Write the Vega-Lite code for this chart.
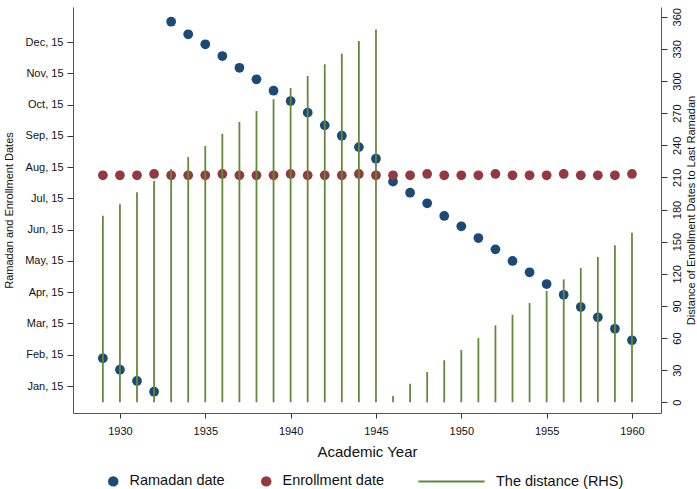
{
  "$schema": "https://vega.github.io/schema/vega-lite/v6.json",
  "width": 588,
  "height": 406,
  "autosize": "none",
  "padding": {"left": 73, "top": 7, "right": 36, "bottom": 76},
  "background": "white",
  "config": {
    "font": "Liberation Sans",
    "view": {"stroke": null},
    "axis": {"grid": false, "domainColor": "#555", "tickColor": "#333", "labelColor": "#111", "titleColor": "#111", "labelFontSize": 11, "titleFontSize": 11, "titleFontWeight": "normal", "tickSize": 6, "labelFont": "Liberation Sans", "titleFont": "Liberation Sans"},
    "legend": {"labelFontSize": 14.5, "labelFont": "Liberation Sans", "labelColor": "#111", "title": null}
  },
  "datasets": {
    "dates": [
      {"year": 1929, "series": "Ramadan date", "doy": 41.9},
      {"year": 1930, "series": "Ramadan date", "doy": 30.8},
      {"year": 1931, "series": "Ramadan date", "doy": 19.9},
      {"year": 1932, "series": "Ramadan date", "doy": 9.5},
      {"year": 1933, "series": "Ramadan date", "doy": 368.7},
      {"year": 1934, "series": "Ramadan date", "doy": 356.5},
      {"year": 1935, "series": "Ramadan date", "doy": 346.8},
      {"year": 1936, "series": "Ramadan date", "doy": 335.4},
      {"year": 1937, "series": "Ramadan date", "doy": 324.0},
      {"year": 1938, "series": "Ramadan date", "doy": 312.8},
      {"year": 1939, "series": "Ramadan date", "doy": 301.7},
      {"year": 1940, "series": "Ramadan date", "doy": 291.7},
      {"year": 1941, "series": "Ramadan date", "doy": 280.4},
      {"year": 1942, "series": "Ramadan date", "doy": 268.1},
      {"year": 1943, "series": "Ramadan date", "doy": 258.0},
      {"year": 1944, "series": "Ramadan date", "doy": 247.0},
      {"year": 1945, "series": "Ramadan date", "doy": 235.7},
      {"year": 1946, "series": "Ramadan date", "doy": 213.4},
      {"year": 1947, "series": "Ramadan date", "doy": 202.7},
      {"year": 1948, "series": "Ramadan date", "doy": 192.4},
      {"year": 1949, "series": "Ramadan date", "doy": 180.1},
      {"year": 1950, "series": "Ramadan date", "doy": 170.1},
      {"year": 1951, "series": "Ramadan date", "doy": 158.7},
      {"year": 1952, "series": "Ramadan date", "doy": 147.7},
      {"year": 1953, "series": "Ramadan date", "doy": 136.4},
      {"year": 1954, "series": "Ramadan date", "doy": 125.4},
      {"year": 1955, "series": "Ramadan date", "doy": 114.0},
      {"year": 1956, "series": "Ramadan date", "doy": 103.6},
      {"year": 1957, "series": "Ramadan date", "doy": 91.7},
      {"year": 1958, "series": "Ramadan date", "doy": 81.7},
      {"year": 1959, "series": "Ramadan date", "doy": 70.6},
      {"year": 1960, "series": "Ramadan date", "doy": 59.4},
      {"year": 1929, "series": "Enrollment date", "doy": 219.6},
      {"year": 1930, "series": "Enrollment date", "doy": 219.6},
      {"year": 1931, "series": "Enrollment date", "doy": 219.6},
      {"year": 1932, "series": "Enrollment date", "doy": 220.9},
      {"year": 1933, "series": "Enrollment date", "doy": 219.6},
      {"year": 1934, "series": "Enrollment date", "doy": 219.6},
      {"year": 1935, "series": "Enrollment date", "doy": 219.6},
      {"year": 1936, "series": "Enrollment date", "doy": 220.9},
      {"year": 1937, "series": "Enrollment date", "doy": 219.6},
      {"year": 1938, "series": "Enrollment date", "doy": 219.6},
      {"year": 1939, "series": "Enrollment date", "doy": 219.6},
      {"year": 1940, "series": "Enrollment date", "doy": 220.9},
      {"year": 1941, "series": "Enrollment date", "doy": 219.6},
      {"year": 1942, "series": "Enrollment date", "doy": 219.6},
      {"year": 1943, "series": "Enrollment date", "doy": 219.6},
      {"year": 1944, "series": "Enrollment date", "doy": 220.9},
      {"year": 1945, "series": "Enrollment date", "doy": 219.6},
      {"year": 1946, "series": "Enrollment date", "doy": 219.6},
      {"year": 1947, "series": "Enrollment date", "doy": 219.6},
      {"year": 1948, "series": "Enrollment date", "doy": 220.9},
      {"year": 1949, "series": "Enrollment date", "doy": 219.6},
      {"year": 1950, "series": "Enrollment date", "doy": 219.6},
      {"year": 1951, "series": "Enrollment date", "doy": 219.6},
      {"year": 1952, "series": "Enrollment date", "doy": 220.9},
      {"year": 1953, "series": "Enrollment date", "doy": 219.6},
      {"year": 1954, "series": "Enrollment date", "doy": 219.6},
      {"year": 1955, "series": "Enrollment date", "doy": 219.6},
      {"year": 1956, "series": "Enrollment date", "doy": 220.9},
      {"year": 1957, "series": "Enrollment date", "doy": 219.6},
      {"year": 1958, "series": "Enrollment date", "doy": 219.6},
      {"year": 1959, "series": "Enrollment date", "doy": 219.6},
      {"year": 1960, "series": "Enrollment date", "doy": 220.9}
    ],
    "dist": [
      {"year": 1929, "distance": 174.2, "lbl": "The distance (RHS)"},
      {"year": 1930, "distance": 184.9, "lbl": "The distance (RHS)"},
      {"year": 1931, "distance": 196.1, "lbl": "The distance (RHS)"},
      {"year": 1932, "distance": 206.6, "lbl": "The distance (RHS)"},
      {"year": 1933, "distance": 217.8, "lbl": "The distance (RHS)"},
      {"year": 1934, "distance": 229.0, "lbl": "The distance (RHS)"},
      {"year": 1935, "distance": 239.3, "lbl": "The distance (RHS)"},
      {"year": 1936, "distance": 250.8, "lbl": "The distance (RHS)"},
      {"year": 1937, "distance": 261.7, "lbl": "The distance (RHS)"},
      {"year": 1938, "distance": 272.0, "lbl": "The distance (RHS)"},
      {"year": 1939, "distance": 282.9, "lbl": "The distance (RHS)"},
      {"year": 1940, "distance": 293.4, "lbl": "The distance (RHS)"},
      {"year": 1941, "distance": 304.6, "lbl": "The distance (RHS)"},
      {"year": 1942, "distance": 315.6, "lbl": "The distance (RHS)"},
      {"year": 1943, "distance": 325.5, "lbl": "The distance (RHS)"},
      {"year": 1944, "distance": 337.3, "lbl": "The distance (RHS)"},
      {"year": 1945, "distance": 348.2, "lbl": "The distance (RHS)"},
      {"year": 1946, "distance": 5.9, "lbl": "The distance (RHS)"},
      {"year": 1947, "distance": 17.4, "lbl": "The distance (RHS)"},
      {"year": 1948, "distance": 28.3, "lbl": "The distance (RHS)"},
      {"year": 1949, "distance": 39.2, "lbl": "The distance (RHS)"},
      {"year": 1950, "distance": 48.8, "lbl": "The distance (RHS)"},
      {"year": 1951, "distance": 60.0, "lbl": "The distance (RHS)"},
      {"year": 1952, "distance": 71.9, "lbl": "The distance (RHS)"},
      {"year": 1953, "distance": 81.8, "lbl": "The distance (RHS)"},
      {"year": 1954, "distance": 92.7, "lbl": "The distance (RHS)"},
      {"year": 1955, "distance": 103.9, "lbl": "The distance (RHS)"},
      {"year": 1956, "distance": 114.8, "lbl": "The distance (RHS)"},
      {"year": 1957, "distance": 125.4, "lbl": "The distance (RHS)"},
      {"year": 1958, "distance": 135.7, "lbl": "The distance (RHS)"},
      {"year": 1959, "distance": 146.6, "lbl": "The distance (RHS)"},
      {"year": 1960, "distance": 158.3, "lbl": "The distance (RHS)"}
    ]
  },
  "layer": [
    {
      "data": {"name": "dates"},
      "mark": {"type": "circle", "size": 95, "opacity": 1},
      "encoding": {
        "x": {"field": "year", "type": "quantitative", "scale": {"domain": [1927.25, 1961.7], "nice": false, "zero": false},
              "axis": {"values": [1930, 1935, 1940, 1945, 1950, 1955, 1960], "format": "d", "title": "Academic Year", "titleFontSize": 15, "tickSize": 5, "labelPadding": 7, "titlePadding": 8}},
        "y": {"field": "doy", "type": "quantitative", "scale": {"domain": [-11.2, 383], "nice": false, "zero": false},
              "axis": {"title": "Ramadan and Enrollment Dates", "values": [15, 45.36, 75.73, 106.09, 136.45, 166.82, 197.18, 227.55, 257.91, 288.27, 318.64, 349],
                       "labelExpr": "['Jan, 15','Feb, 15','Mar, 15','Apr, 15','May, 15','Jun, 15','Jul, 15','Aug, 15','Sep, 15','Oct, 15','Nov, 15','Dec, 15'][round((datum.value - 15) / 30.3636)]",
                       "titlePadding": 10, "labelPadding": 4}},
        "color": {"field": "series", "type": "nominal", "sort": null,
                  "scale": {"domain": ["Ramadan date", "Enrollment date"], "range": ["#1c4a77", "#923a40"]},
                  "legend": {"orient": "none", "direction": "horizontal", "legendX": 33, "legendY": 467, "symbolType": "circle", "symbolSize": 110, "symbolOpacity": 1, "columnPadding": 34, "labelOffset": 9}}
      }
    },
    {
      "data": {"name": "dist"},
      "mark": {"type": "rule", "strokeWidth": 1.8},
      "encoding": {
        "x": {"field": "year", "type": "quantitative"},
        "y": {"field": "distance", "type": "quantitative", "scale": {"domain": [-10, 369.1], "nice": false, "zero": false},
              "axis": {"orient": "right", "title": "Distance of Enrollment Dates to Last Ramadan", "titleAngle": 270, "values": [0, 30, 60, 90, 120, 150, 180, 210, 240, 270, 300, 330, 360], "labelAngle": 270, "titlePadding": 14, "labelPadding": 4}},
        "y2": {"datum": 0},
        "color": {"field": "lbl", "type": "nominal",
                  "scale": {"domain": ["The distance (RHS)"], "range": ["#65893b"]},
                  "legend": {"orient": "none", "legendX": 344, "legendY": 440, "symbolType": "stroke", "symbolSize": 4400, "symbolStrokeWidth": 2, "labelOffset": 10}}
      }
    }
  ],
  "resolve": {"scale": {"y": "independent", "color": "independent"}}
}
